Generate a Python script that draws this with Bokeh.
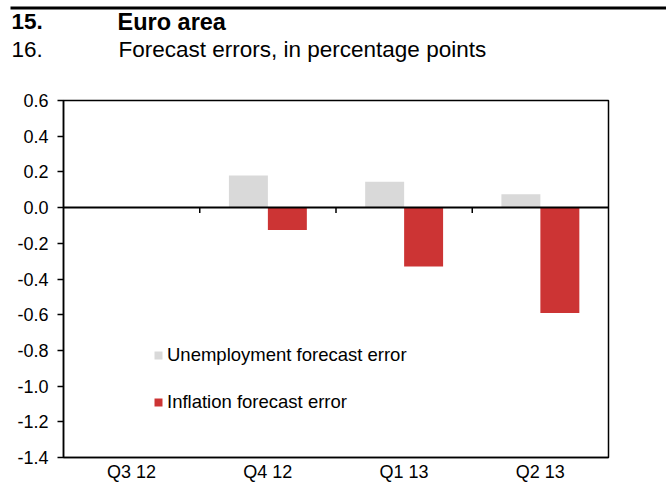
from bokeh.plotting import figure
from bokeh.models import (ColumnDataSource, FactorRange, Range1d, Span, Legend, LegendItem,
                          FixedTicker, NumeralTickFormatter, Label)
from bokeh.transform import dodge
from bokeh.embed import file_html
from bokeh.resources import INLINE

categories = ["Q3 12", "Q4 12", "Q1 13", "Q2 13"]
unemployment = [0.0, 0.18, 0.145, 0.075]
inflation = [0.0, -0.125, -0.33, -0.59]
y_ticks = [-1.4, -1.2, -1.0, -0.8, -0.6, -0.4, -0.2, 0.0, 0.2, 0.4, 0.6]
series_names = ["Unemployment forecast error", "Inflation forecast error"]
title_num = ["15.", "16."]
title_txt = ["Euro area", "Forecast errors, in percentage points"]

FONT = "Liberation Sans"
GREY = "#d9d9d9"
RED = "#cc3434"

src = ColumnDataSource(dict(cat=categories, u=unemployment, inf=inflation))
p = figure(width=666, height=493, x_range=FactorRange(*categories), y_range=Range1d(-1.4, 0.6),
           output_backend="svg", toolbar_location=None,
           min_border_left=63, min_border_right=58, min_border_top=100, min_border_bottom=36)
p.title.visible = False
p.xgrid.visible = False
p.ygrid.visible = False
p.outline_line_color = "black"
p.outline_line_width = 1.5

bw = 0.286
r1 = p.vbar(x=dodge("cat", -bw / 2, range=p.x_range), top="u", bottom=0, width=bw,
            source=src, fill_color=GREY, line_color=None)
r2 = p.vbar(x=dodge("cat", bw / 2, range=p.x_range), top="inf", bottom=0, width=bw,
            source=src, fill_color=RED, line_color=None)

p.add_layout(Span(location=0, dimension="width", line_color="black", line_width=2))
# category-boundary ticks on the zero line
bsrc = ColumnDataSource(dict(cat=categories[1:], y0=[0.0] * 3, y1=[-0.03] * 3))
p.segment(x0=dodge("cat", -0.5, range=p.x_range), y0="y0",
          x1=dodge("cat", -0.5, range=p.x_range), y1="y1",
          source=bsrc, line_color="black", line_width=1.5)

yax = p.yaxis[0]
yax.ticker = FixedTicker(ticks=y_ticks)
yax.formatter = NumeralTickFormatter(format="0.0")
yax.axis_line_color = "black"
yax.axis_line_width = 1.5
yax.major_tick_in = 0
yax.major_tick_out = 6
yax.major_tick_line_width = 1.5
yax.minor_tick_line_color = None
yax.major_label_text_font = FONT
yax.major_label_text_font_size = "18px"
yax.major_label_text_color = "black"
yax.major_label_standoff = 9

xax = p.xaxis[0]
xax.axis_line_color = "black"
xax.axis_line_width = 1.5
xax.major_tick_line_color = None
xax.minor_tick_line_color = None
xax.major_label_text_font = FONT
xax.major_label_text_font_size = "18px"
xax.major_label_text_color = "black"
xax.major_label_standoff = -2

legend = Legend(items=[LegendItem(label=series_names[0], renderers=[r1]),
                       LegendItem(label=series_names[1], renderers=[r2])],
                location=(90, 44), padding=0, margin=0, spacing=25,
                glyph_width=10, glyph_height=10, label_height=20, label_standoff=4,
                label_text_font=FONT, label_text_font_size="18.5px", label_text_color="black",
                border_line_color=None, background_fill_alpha=0)
p.add_layout(legend)

# header, placed in canvas pixels
def head(txt, x, y, bold, size="22.5px"):
    return Label(x=x, y=y, x_units="canvas", y_units="canvas", text=txt, text_font=FONT,
                 text_font_size=size, text_font_style="bold" if bold else "normal",
                 text_baseline="alphabetic", text_align="left", text_color="black")

p.add_layout(head(title_num[0], 11, 21, True), "right")
p.add_layout(head(title_txt[0], 117, 21, True, "23.5px"), "above")
p.add_layout(head(title_num[1], 11, 49, False), "above")
p.add_layout(head(title_txt[1], 118, 49, False), "above")
p.add_layout(Label(x=10, y=6, x_units="canvas", y_units="canvas", text=" ",
                   text_font=FONT, text_font_size="1px", text_baseline="top", text_align="left",
                   padding=dict(left=0, right=656, top=1, bottom=1),
                   background_fill_color="black", border_line_color=None), "above")

open("out.html", "w").write(file_html(p, INLINE))
